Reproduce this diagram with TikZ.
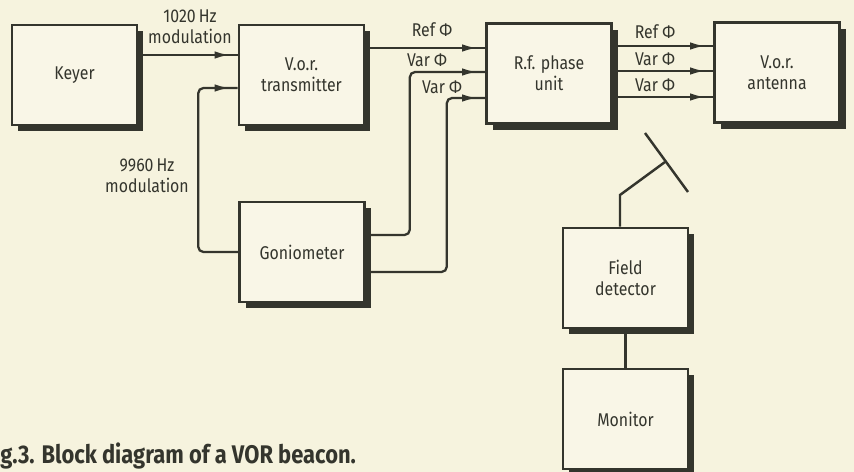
\documentclass[tikz,border=0pt]{standalone}
\usepackage{fontspec}
\setmainfont{Fira Sans}[FakeStretch=0.86]
\usetikzlibrary{arrows.meta,positioning,calc,shadows,decorations.markings}
\definecolor{paperCream}{RGB}{246,243,222}
\definecolor{boxCream}{RGB}{249,246,231}
\definecolor{inkGrey}{RGB}{52,53,45}

\begin{document}
\begin{tikzpicture}[x=0.02cm, y=-0.02cm,
        every node/.style={text=inkGrey, font=\fontsize{10.5}{12}\selectfont},
        unit/.style={draw=inkGrey, line width=1.5pt, fill=boxCream,
          minimum width=2.5cm, minimum height=2cm, align=center,
          drop shadow={shadow xshift=3.5pt, shadow yshift=-3.5pt,
            fill=inkGrey, opacity=1}},
        sig/.style={draw=inkGrey, line width=1.3pt, rounded corners=3pt,
          postaction={decorate}, decoration={markings,
            mark=at position -0.16cm with {\arrow{Latex[length=0.3cm,width=0.15cm]}}}},
        wire/.style={draw=inkGrey, line width=1.4pt},
        >=Stealth
      ]
        \fill[paperCream] (0,0) rectangle (854,472);
        \useasboundingbox (0,0) rectangle (854,472);

        \node[unit] (key) at (74.5,75) {Keyer};
        \node[unit] (vtx) at (301.5,75) {V.o.r.\\transmitter};
        \node[unit] (rfu) at (549,73.5) {R.f. phase\\unit};
        \node[unit] (ant) at (777,72.5) {V.o.r.\\antenna};
        \node[unit] (gon) at (302,252) {Goniometer};
        \node[unit] (fdet) at (625.5,278) {Field\\detector};
        \node[unit] (mon) at (625.5,419) {Monitor};

        % Modulation feeds
        \draw[sig] ([yshift=0.4cm]key.east) coordinate (k1) -- (k1 -| vtx.west);
        \node[align=center] (mod1020) at (190,27) {1020\,Hz\\modulation};

        \draw[sig] (gon.west) -- ++(-0.8cm,0) |- ([yshift=-0.26cm]vtx.west);
        \node[align=center] (mod9960) at (147,176) {9960\,Hz\\modulation};

        % Phases into r.f. unit
        \draw[sig] ([yshift=0.54cm]vtx.east) coordinate (r1) -- (r1 -| rfu.west);
        \draw[sig] ([yshift=0.34cm]gon.east) -- ++(0.88cm,0) |- ([yshift=0.03cm]rfu.west);
        \draw[sig] ([yshift=-0.4cm]gon.east) -- ++(1.62cm,0) |- ([yshift=-0.49cm]rfu.west);
        \node (refIn) at (432,30) {Ref Φ};
        \node (varInA) at (427,60) {Var Φ};
        \node (varInB) at (442,87) {Var Φ};

        % Phases to antenna
        \draw[sig] ([yshift=0.55cm]rfu.east) coordinate (a1) -- (a1 -| ant.west);
        \draw[sig] ([yshift=0.05cm]rfu.east) coordinate (a2) -- (a2 -| ant.west);
        \draw[sig] ([yshift=-0.47cm]rfu.east) coordinate (a3) -- (a3 -| ant.west);
        \node (refOut) at (655,32) {Ref Φ};
        \node (varOutA) at (655,59) {Var Φ};
        \node (varOutB) at (655,85) {Var Φ};

        % Field detector and its aerial
        \draw[wire] (fdet.south) -- (mon.north);
        \coordinate (rodTop) at (645,133);
        \coordinate (rodEnd) at (688,192);
        \coordinate (feedKnee) at (620,195);
        \coordinate (feedTop) at (665,162);
        \draw[wire] (rodTop) -- (rodEnd);
        \draw[wire] (fdet.north -| feedKnee) -- (feedKnee) -- (feedTop);

        \node[anchor=base west, inner sep=0,
          font=\bfseries\fontsize{14.5}{16}\selectfont] (caption) at (0,463)
          {g.3. Block diagram of a VOR beacon.};
      \end{tikzpicture}
\end{document}
